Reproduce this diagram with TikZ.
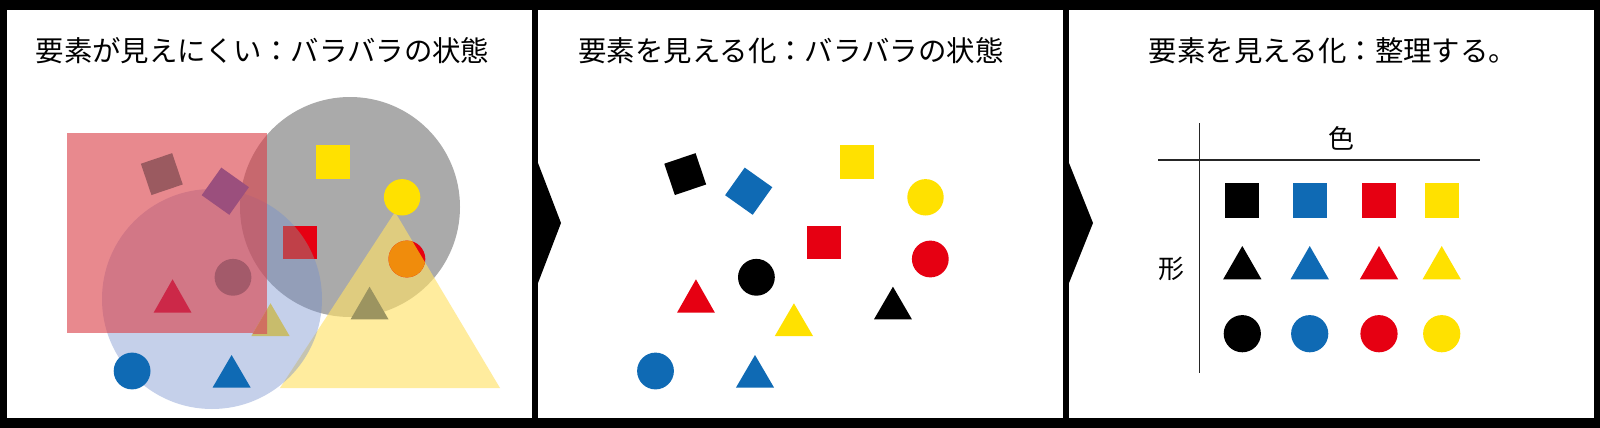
\documentclass[tikz,border=0pt]{standalone}
\usepackage{fontspec}
\setmainfont{Noto Sans CJK JP}
\definecolor{cblack}{HTML}{000000}
\definecolor{cblue}{HTML}{0F6AB4}
\definecolor{cred}{HTML}{E60012}
\definecolor{cyellow}{HTML}{FFE100}
\definecolor{bggrey}{HTML}{AAAAAA}
\definecolor{bgyellow}{RGB}{255,225,102}
\definecolor{bgblue}{RGB}{117,143,205}
\definecolor{bgpink}{RGB}{218,65,74}
\definecolor{mixmaroon}{HTML}{9B5A60}
\definecolor{mixpurple}{HTML}{9B4F7D}
\definecolor{mixdark}{HTML}{A35A6A}
\definecolor{mixred}{HTML}{CC2848}
\definecolor{mixyel}{HTML}{C8BC6C}
\definecolor{mixsalmon}{HTML}{D07060}
\definecolor{mixredblue}{HTML}{C04048}
\definecolor{mixorange}{HTML}{F08C0C}
\definecolor{mixolive}{HTML}{9C9460}
\begin{document}
\begin{tikzpicture}[x=1pt,y=-1pt,
  titletext/.style={font=\fontsize{28.4pt}{34pt}\selectfont, anchor=base, inner sep=0pt},
  axislbl/.style={font=\fontsize{26pt}{30pt}\selectfont, anchor=base, inner sep=0pt},
  panelbox/.style={fill=white},
  axisline/.style={draw=black!85, line width=1.2pt}]
\useasboundingbox (0,0) rectangle (1600,428);
% background and panels
\fill[black] (0,0) rectangle (1600,428);
\fill[panelbox] (7,10) rectangle (532,418);
\fill[panelbox] (538,10) rectangle (1063,418);
\fill[panelbox] (1069,10) rectangle (1594,418);
\fill[black] (538,163) -- (561,223) -- (538,283) -- cycle;
\fill[black] (1069,163) -- (1093,223) -- (1069,283) -- cycle;

% titles
\node[titletext] (t1) at (262.5,61.3) {要素が見えにくい：バラバラの状態};
\node[titletext] (t2) at (791,61.3) {要素を見える化：バラバラの状態};
\node[titletext] (t3) at (1333,61.3) {要素を見える化：整理する。};

% ---------- panel 1 ----------
\fill[bggrey] (350,207) circle[radius=110pt];
\fill[bgyellow, fill opacity=0.63] (280,388) -- (500,388) -- (395,212) -- cycle;
\fill[bgblue, fill opacity=0.42] (212,299) circle[radius=110pt];
\fill[bgpink, fill opacity=0.62] (67,133) rectangle (267,333);

\fill[mixmaroon] (140.85,163.75) -- (172.15,153.15) -- (182.75,184.45) -- (151.45,195.05) -- cycle;
\fill[mixpurple] (221.3,167.6) -- (248.9,187.2) -- (229.3,214.8) -- (201.7,195.2) -- cycle;
\fill[mixdark] (233,277.3) circle[radius=18.4pt];
\fill[mixred] (153.6,312.7) -- (191.5,312.7) -- (172.55,279.3) -- cycle;
\fill[mixyel] (251.4,336) -- (289.6,336) -- (270.5,303.3) -- cycle;
\begin{scope}
  \clip (67,133) rectangle (267,333);
  \fill[mixsalmon] (251.4,336) -- (289.6,336) -- (270.5,303.3) -- cycle;
\end{scope}
\fill[cred] (283.1,225.7) rectangle (317.2,259.3);
\begin{scope}
  \clip (212,299) circle[radius=110pt];
  \fill[mixredblue] (283.1,225.7) rectangle (317.2,259.3);
\end{scope}
\fill[cred] (406.9,259) circle[radius=18.4pt];
\begin{scope}
  \clip (280,388) -- (500,388) -- (395,212) -- cycle;
  \fill[mixorange] (406.9,259) circle[radius=18.4pt];
\end{scope}
\fill[mixolive] (350.6,319.3) -- (388.5,319.3) -- (369.55,286.7) -- cycle;
\fill[cyellow] (316.2,145) rectangle (350.3,179);
\fill[cyellow] (402.1,197.3) circle[radius=18.2pt];
\fill[cblue] (132.1,371) circle[radius=18.4pt];
\fill[cblue] (212.5,387.7) -- (250.7,387.7) -- (231.6,355) -- cycle;

% ---------- panel 2 ----------
\begin{scope}[xshift=523.4pt]
\fill[cblack] (140.85,163.75) -- (172.15,153.15) -- (182.75,184.45) -- (151.45,195.05) -- cycle;
\fill[cblue] (221.3,167.6) -- (248.9,187.2) -- (229.3,214.8) -- (201.7,195.2) -- cycle;
\fill[cyellow] (316.2,145) rectangle (350.3,179);
\fill[cyellow] (402.1,197.3) circle[radius=18.2pt];
\fill[cred] (283.1,225.7) rectangle (317.2,259.3);
\fill[cred] (406.9,259) circle[radius=18.4pt];
\fill[cblack] (233,277.3) circle[radius=18.4pt];
\fill[cred] (153.6,312.7) -- (191.5,312.7) -- (172.55,279.3) -- cycle;
\fill[cyellow] (251.4,336) -- (289.6,336) -- (270.5,303.3) -- cycle;
\fill[cblack] (350.6,319.3) -- (388.5,319.3) -- (369.55,286.7) -- cycle;
\fill[cblue] (132.1,371) circle[radius=18.4pt];
\fill[cblue] (212.5,387.7) -- (250.7,387.7) -- (231.6,355) -- cycle;
\end{scope}

% ---------- panel 3 ----------
\draw[axisline] (1199.3,123.3) -- (1199.3,373.3);
\draw[axisline] (1158,160) -- (1480.4,160);
\node[axislbl] (colour) at (1341.3,148.9) {色};
\node[axislbl] (shape) at (1171.3,278.9) {形};
\foreach \cx/\cc in {1242.3/cblack, 1309.7/cblue, 1379/cred, 1441.7/cyellow}{
  \fill[\cc] (\cx-17,183.3) rectangle (\cx+17,217.7);
  \fill[\cc] (\cx-19.15,279.3) -- (\cx+19.15,279.3) -- (\cx,246) -- cycle;
  \fill[\cc] (\cx,333.7) circle[radius=18.6pt];
}
\end{tikzpicture}
\end{document}
